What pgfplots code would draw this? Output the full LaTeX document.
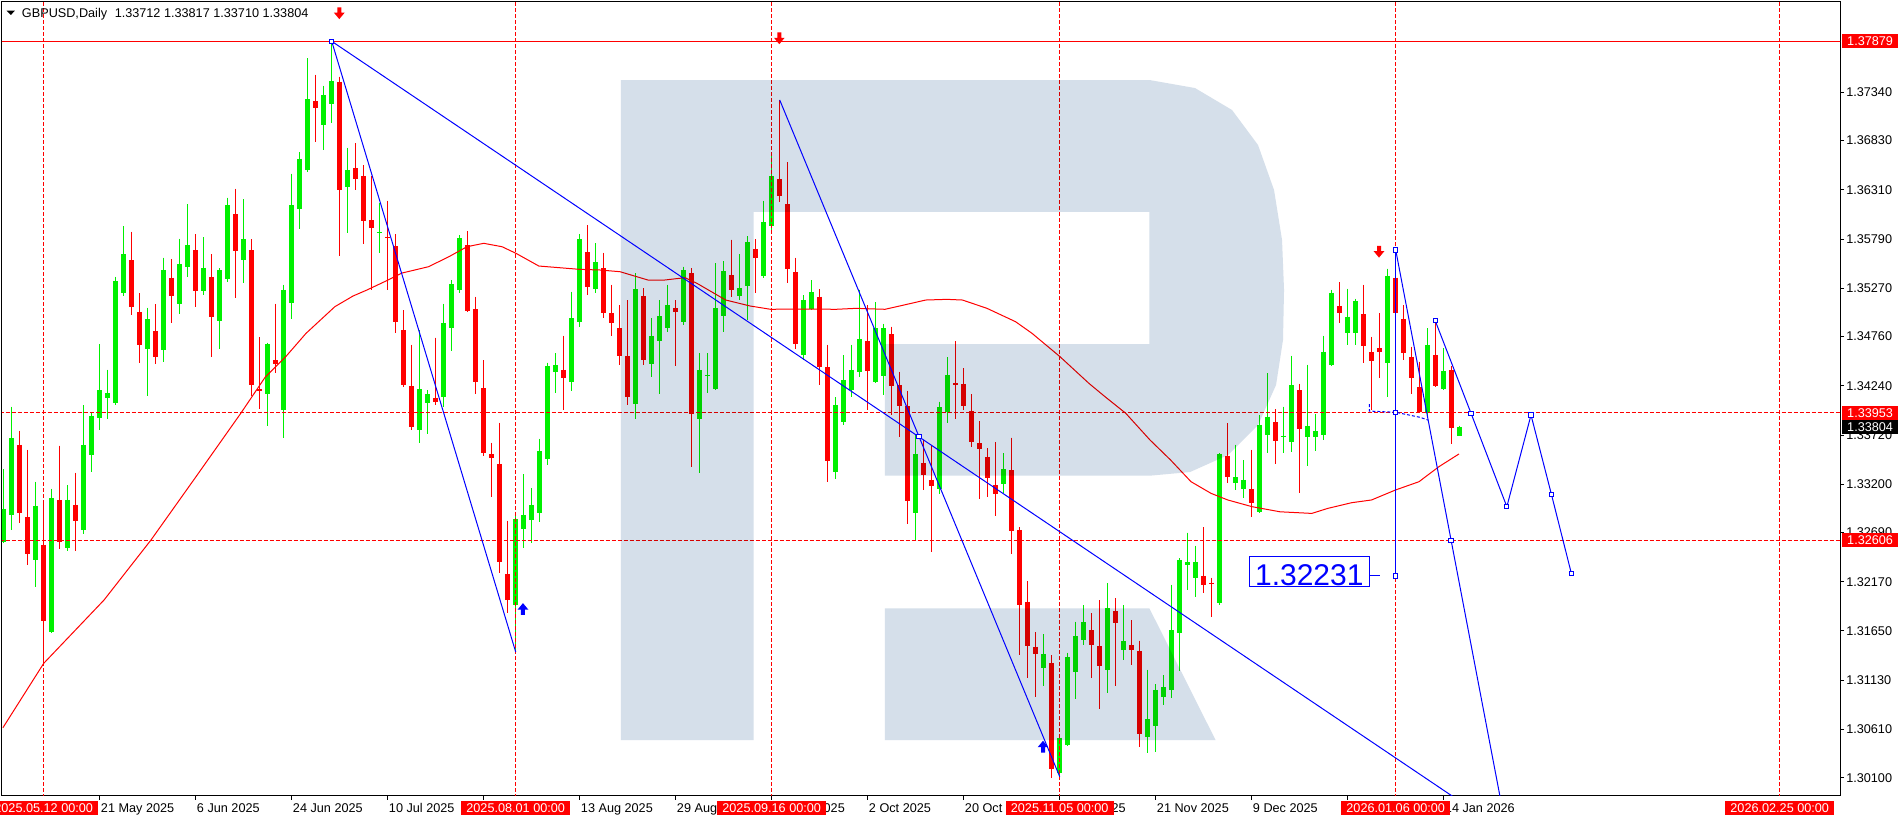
\documentclass[border=0pt]{standalone}
\usepackage{fontspec}
\setmainfont{Liberation Sans}
\usepackage{pgfplots}
\usepackage{pgfplotstable}
\pgfplotsset{compat=1.18}
\definecolor{mtgreen}{HTML}{00F000}
\definecolor{mtred}{HTML}{FF0000}
\definecolor{mtblue}{HTML}{0000FF}
\definecolor{wmark}{HTML}{D5DFEA}
\newcommand\tickfont{\fontsize{9.5pt}{11pt}\selectfont}

% arrows put on the chart by hand
\pgfdeclareplotmark{dnarr}{%
  \pgfpathmoveto{\pgfqpoint{-1.5pt}{4.4pt}}\pgfpathlineto{\pgfqpoint{1.5pt}{4.4pt}}%
  \pgfpathlineto{\pgfqpoint{1.5pt}{0.4pt}}\pgfpathlineto{\pgfqpoint{4pt}{0.4pt}}%
  \pgfpathlineto{\pgfqpoint{0pt}{-4.4pt}}\pgfpathlineto{\pgfqpoint{-4pt}{0.4pt}}%
  \pgfpathlineto{\pgfqpoint{-1.5pt}{0.4pt}}\pgfpathclose\pgfusepathqfill}
\pgfdeclareplotmark{uparr}{%
  \pgfpathmoveto{\pgfqpoint{-1.5pt}{-4.4pt}}\pgfpathlineto{\pgfqpoint{1.5pt}{-4.4pt}}%
  \pgfpathlineto{\pgfqpoint{1.5pt}{-0.4pt}}\pgfpathlineto{\pgfqpoint{4pt}{-0.4pt}}%
  \pgfpathlineto{\pgfqpoint{0pt}{4.4pt}}\pgfpathlineto{\pgfqpoint{-4pt}{-0.4pt}}%
  \pgfpathlineto{\pgfqpoint{-1.5pt}{-0.4pt}}\pgfpathclose\pgfusepathqfill}

% candle = error bar from the top down; no mark at the point itself
\pgfplotsset{candle/.style 2 args={only marks, mark size=0pt,
    mark options={draw=none, fill=none}, forget plot,
    error bars/.cd, y dir=minus, y explicit, error mark=none,
    error bar style={line width=#2, #1}}}

% daily bars, x = bar number (0 = 2025.05.12)
\pgfplotstableread{
i o h l c
-5 1.32594 1.33361 1.32580 1.32939
-4 1.32876 1.34016 1.32717 1.33689
-1 1.32403 1.33224 1.32115 1.32971
1 1.31639 1.33150 1.31628 1.33055
3 1.32527 1.33192 1.32498 1.33034
5 1.32717 1.34037 1.32678 1.33615
6 1.33509 1.33953 1.33330 1.33921
7 1.33903 1.34681 1.33776 1.34195
8 1.34111 1.34407 1.33889 1.34164
9 1.34058 1.35391 1.34037 1.35346
10 1.35220 1.35927 1.35188 1.35632
13 1.34628 1.35062 1.34132 1.34945
15 1.34618 1.35593 1.34491 1.35463
17 1.35104 1.35793 1.35001 1.35526
18 1.35498 1.36160 1.35391 1.35727
20 1.35237 1.35808 1.35199 1.35487
22 1.34924 1.35481 1.34628 1.35463
23 1.35371 1.36227 1.35336 1.36149
25 1.35568 1.36213 1.35329 1.35790
28 1.34153 1.34695 1.33815 1.34681
30 1.33988 1.35305 1.33692 1.35252
31 1.35117 1.36480 1.34950 1.36149
32 1.36107 1.36707 1.35896 1.36636
33 1.36523 1.37702 1.36498 1.37269
35 1.36995 1.37407 1.36734 1.37312
36 1.37217 1.37879 1.37016 1.37459
38 1.36343 1.36752 1.35851 1.36519
42 1.35854 1.36171 1.35643 1.35864
47 1.33776 1.34829 1.33639 1.34206
48 1.34061 1.34195 1.33734 1.34153
50 1.34122 1.35104 1.34016 1.34903
51 1.34854 1.35357 1.34607 1.35315
52 1.35252 1.35830 1.35220 1.35801
59 1.31924 1.32907 1.31428 1.32833
60 1.32727 1.33308 1.32527 1.32876
61 1.32823 1.33160 1.32580 1.32981
62 1.32897 1.33678 1.32801 1.33551
63 1.33467 1.34484 1.33406 1.34449
64 1.34386 1.34586 1.34164 1.34459
66 1.34283 1.35231 1.34188 1.34956
67 1.34914 1.35843 1.34864 1.35790
69 1.35265 1.35748 1.35217 1.35547
74 1.34048 1.35428 1.33889 1.35262
76 1.34473 1.34956 1.34336 1.34766
77 1.34716 1.35146 1.34156 1.34977
78 1.34850 1.35305 1.34811 1.35093
80 1.34914 1.35498 1.34882 1.35463
82 1.33886 1.34586 1.33322 1.34407
83 1.34343 1.34586 1.34161 1.34351
84 1.34209 1.35534 1.34195 1.35062
85 1.34980 1.35555 1.34811 1.35449
87 1.35188 1.35632 1.35146 1.35273
88 1.35294 1.35822 1.34935 1.35759
90 1.35400 1.36192 1.35379 1.35967
91 1.35931 1.36709 1.35864 1.36456
95 1.34562 1.35199 1.34512 1.35146
96 1.35051 1.35357 1.35040 1.35227
99 1.33332 1.34118 1.33252 1.34037
100 1.33861 1.34565 1.33826 1.34301
101 1.34195 1.34671 1.34121 1.34407
102 1.34389 1.35252 1.34336 1.34734
104 1.34283 1.35125 1.34273 1.34847
105 1.34346 1.34893 1.34143 1.34850
109 1.32894 1.33720 1.32611 1.33520
112 1.33150 1.34072 1.33097 1.34013
113 1.33966 1.34541 1.33844 1.34354
120 1.33203 1.33527 1.33104 1.33361
125 1.31262 1.31618 1.31069 1.31407
127 1.30147 1.30551 1.30111 1.30523
128 1.30445 1.31420 1.30435 1.31372
129 1.31220 1.31745 1.30931 1.31597
130 1.31555 1.31924 1.31502 1.31742
133 1.31238 1.32154 1.30998 1.31890
135 1.31449 1.31924 1.31343 1.31544
138 1.30527 1.31238 1.30364 1.30720
139 1.30646 1.31087 1.30375 1.31027
140 1.30950 1.31185 1.30868 1.31055
141 1.31023 1.32136 1.30945 1.31660
142 1.31625 1.32418 1.31230 1.32400
143 1.32347 1.32688 1.32083 1.32379
144 1.32206 1.32548 1.32012 1.32379
147 1.31942 1.33530 1.31924 1.33520
149 1.33216 1.33615 1.33139 1.33273
150 1.33147 1.33456 1.33051 1.33245
152 1.32910 1.33931 1.32896 1.33826
153 1.33720 1.34372 1.33533 1.33913
155 1.33702 1.34019 1.33533 1.33713
156 1.33649 1.34555 1.33544 1.34248
158 1.33696 1.34460 1.33396 1.33815
159 1.33702 1.33942 1.33554 1.33762
160 1.33720 1.34766 1.33667 1.34600
161 1.34460 1.35252 1.34449 1.35223
163 1.34794 1.35265 1.34671 1.34970
164 1.34798 1.35157 1.34671 1.35135
168 1.34477 1.35477 1.34125 1.35400
173 1.33949 1.34847 1.33931 1.34671
175 1.34203 1.34636 1.34195 1.34396
177 1.33712 1.33817 1.33710 1.33804
}\bull

\pgfplotstableread{
i o h l c
-3 1.33615 1.33763 1.32791 1.32900
-2 1.32854 1.33562 1.32347 1.32464
0 1.32559 1.33023 1.31312 1.31758
2 1.33034 1.33607 1.32516 1.32594
4 1.32981 1.33319 1.32498 1.32812
11 1.35568 1.35867 1.34988 1.35069
12 1.35019 1.35220 1.34481 1.34674
14 1.34819 1.35101 1.34468 1.34544
16 1.35383 1.35579 1.34906 1.35188
19 1.35671 1.35843 1.35069 1.35237
21 1.35391 1.35632 1.34547 1.34970
24 1.36054 1.36319 1.35167 1.35664
26 1.35671 1.35790 1.34132 1.34248
27 1.34206 1.34755 1.33995 1.34188
29 1.34512 1.35104 1.34375 1.34473
34 1.37248 1.37523 1.36818 1.37178
37 1.37452 1.37505 1.35614 1.36308
39 1.36540 1.36801 1.36308 1.36421
40 1.36456 1.36572 1.35741 1.35984
41 1.35991 1.36456 1.35252 1.35907
43 1.35812 1.36192 1.35252 1.35801
44 1.35717 1.35843 1.34800 1.34913
45 1.34829 1.35040 1.34230 1.34248
46 1.34237 1.34671 1.33773 1.33805
49 1.34114 1.34748 1.34037 1.34072
53 1.35727 1.35875 1.35019 1.35030
54 1.35051 1.35178 1.34156 1.34283
55 1.34216 1.34512 1.33502 1.33534
56 1.33520 1.33636 1.33065 1.33481
57 1.33414 1.33847 1.32266 1.32382
58 1.32252 1.32812 1.31843 1.31977
65 1.34407 1.34766 1.33984 1.34326
68 1.35650 1.35938 1.35196 1.35287
70 1.35484 1.35643 1.34956 1.35012
71 1.35009 1.35305 1.34766 1.34903
72 1.34850 1.35093 1.34460 1.34558
73 1.34555 1.35146 1.34037 1.34125
75 1.35188 1.35270 1.34460 1.34512
79 1.35058 1.35146 1.34452 1.35022
81 1.35428 1.35484 1.33385 1.33939
86 1.35407 1.35783 1.35175 1.35252
89 1.35685 1.35790 1.35217 1.35593
92 1.36421 1.37259 1.36184 1.36248
93 1.36160 1.36601 1.35326 1.35477
94 1.35442 1.35590 1.34625 1.34685
97 1.35181 1.35262 1.34248 1.34442
98 1.34438 1.34671 1.33227 1.33449
103 1.34713 1.35093 1.33984 1.34396
106 1.34787 1.34864 1.33931 1.34237
107 1.34248 1.34386 1.33702 1.34026
108 1.34026 1.34185 1.32780 1.33026
110 1.33421 1.33667 1.33139 1.33298
111 1.33245 1.33615 1.32481 1.33185
114 1.34266 1.34713 1.33889 1.34248
115 1.34259 1.34425 1.33984 1.34026
116 1.33974 1.34153 1.33597 1.33649
117 1.33632 1.33868 1.33044 1.33572
118 1.33488 1.33580 1.33068 1.33269
119 1.33192 1.33643 1.32868 1.33094
121 1.33350 1.33692 1.32463 1.32709
122 1.32717 1.32748 1.31396 1.31924
123 1.31959 1.32178 1.31150 1.31494
124 1.31484 1.31636 1.30956 1.31407
126 1.31312 1.31396 1.30094 1.30195
131 1.31660 1.31837 1.31157 1.31502
132 1.31494 1.31977 1.30826 1.31280
134 1.31861 1.31998 1.31069 1.31737
136 1.31502 1.31766 1.31291 1.31449
137 1.31439 1.31547 1.30428 1.30562
145 1.32231 1.32745 1.32048 1.32136
146 1.32160 1.32210 1.31798 1.32143
148 1.33502 1.33844 1.33210 1.33273
151 1.33150 1.33562 1.32857 1.32999
154 1.33854 1.33992 1.33414 1.33660
157 1.34195 1.34259 1.33104 1.33780
162 1.35083 1.35336 1.34906 1.35012
165 1.34998 1.35305 1.34484 1.34663
166 1.34594 1.34758 1.33984 1.34505
167 1.34636 1.35006 1.34319 1.34600
169 1.35382 1.35653 1.34935 1.35006
170 1.34945 1.35093 1.34512 1.34583
171 1.34547 1.34653 1.34153 1.34326
172 1.34224 1.34494 1.33963 1.33966
174 1.34565 1.34927 1.34230 1.34237
176 1.34407 1.34449 1.33622 1.33797
}\bear

\begin{document}
\begin{tikzpicture}
\fill[white] (-1.5pt,-18.75pt) rectangle (1426.5pt,597pt);
\begin{axis}[
  at={(0pt,0pt)}, anchor=south west,
  width=1378.5pt, height=595.5pt, scale only axis,
  xmin=-5.2125, xmax=224.5375, ymin=1.29907, ymax=1.38294,
  axis line style={black, line width=0.75pt},
  tick style={black, line width=0.75pt},
  tick align=outside, major tick length=3pt,
  xtick pos=bottom, ytick pos=right, yticklabel pos=right,
  scaled y ticks=false,
  xtick={7,19,...,175},
  xticklabels={21 May 2025,6 Jun 2025,24 Jun 2025,10 Jul 2025,28 Jul 2025,
    13 Aug 2025,29 Aug 2025,16 Sep 2025,2 Oct 2025,20 Oct 2025,5 Nov 2025,
    21 Nov 2025,9 Dec 2025,26 Dec 2025,14 Jan 2026},
  ytick={1.30100,1.30610,1.31130,1.31650,1.32170,1.32690,1.33200,1.33720,
    1.34240,1.34760,1.35270,1.35790,1.36310,1.36830,1.37340},
  yticklabels={1.30100,1.30610,1.31130,1.31650,1.32170,1.32690,1.33200,1.33720,
    1.34240,1.34760,1.35270,1.35790,1.36310,1.36830,1.37340},
  xticklabel style={font=\tickfont, anchor=north west, inner sep=0pt, xshift=0.75pt, yshift=-2.5pt},
  yticklabel style={font=\tickfont, anchor=west, inner sep=0pt, xshift=1.5pt},
]
\coordinate (tl) at (rel axis cs:0,1);
\coordinate (d0) at (axis cs:0,1.29907);
\coordinate (d1) at (axis cs:59,1.29907);
\coordinate (d2) at (axis cs:91,1.29907);
\coordinate (d3) at (axis cs:127,1.29907);
\coordinate (d4) at (axis cs:169,1.29907);
\coordinate (d5) at (axis cs:217,1.29907);
\coordinate (p1) at (axis cs:224.5375,1.37879);
\coordinate (p2) at (axis cs:224.5375,1.33953);
\coordinate (p3) at (axis cs:224.5375,1.33804);
\coordinate (p4) at (axis cs:224.5375,1.32606);

% candles: wicks, then bodies
\addplot[candle={mtgreen}{0.75pt}]
  table[x=i, y=h, y error minus expr={\thisrow{h}-\thisrow{l}}]{\bull};
\addplot[candle={mtgreen}{3.75pt}]
  table[x=i, y=c, y error minus expr={max(\thisrow{c}-\thisrow{o},0.00011)}]{\bull};
\addplot[candle={mtred}{0.75pt}]
  table[x=i, y=h, y error minus expr={\thisrow{h}-\thisrow{l}}]{\bear};
\addplot[candle={mtred}{3.75pt}]
  table[x=i, y=o, y error minus expr={max(\thisrow{o}-\thisrow{c},0.00011)}]{\bear};

% moving average
\addplot[mtred, line width=0.75pt] coordinates {
(-5.1,1.30628) (0,1.31308) (7.54,1.31977) (13.41,1.32611) (19.04,1.33280)
(24.64,1.33950) (27.66,1.34328) (30.25,1.34547) (32.79,1.34794) (36.4,1.35076)
(38.66,1.35188) (40.41,1.35252) (43.04,1.35357) (44.79,1.35431) (48.11,1.35498)
(50.66,1.35604) (52.91,1.35709) (55.0,1.35745) (57.29,1.35709) (59.04,1.35639)
(61.89,1.35505) (66.99,1.35470) (69.54,1.35463) (72.04,1.35445) (74.54,1.35382)
(75.54,1.35357) (77.6,1.35357) (80.16,1.35382) (81.66,1.35322) (85.25,1.35146)
(88.29,1.35083) (90.86,1.35048) (94.91,1.35051) (99.04,1.35048) (101.54,1.35058)
(105.16,1.35048) (107.16,1.35086) (110.25,1.35146) (112.9,1.35153) (114.84,1.35146)
(117.91,1.35058) (121.48,1.34917) (123.54,1.34794) (127.04,1.34547) (130.66,1.34265)
(132.66,1.34125) (135.25,1.33950) (138.29,1.33667) (140.86,1.33456) (143.41,1.33227)
(145.91,1.33104) (148.0,1.33034) (151.04,1.32963) (154.54,1.32909) (158.51,1.32892)
(160.51,1.32945) (163.49,1.33005) (165.98,1.33034) (168.96,1.33139) (171.91,1.33227)
(174.41,1.33386) (176.91,1.33520)};

% levels and dates
\addplot[mtred, line width=0.75pt] coordinates {(-10,1.37879) (240,1.37879)};
\addplot[mtred, line width=0.75pt, dash pattern=on 3pt off 1.5pt] coordinates {(-10,1.33953) (240,1.33953)};
\addplot[mtred, line width=0.75pt, dash pattern=on 3pt off 1.5pt] coordinates {(-10,1.32606) (240,1.32606)};
\addplot[mtred, line width=0.75pt, dash pattern=on 3pt off 1.5pt] coordinates {(0,1.29) (0,1.39)};
\addplot[mtred, line width=0.75pt, dash pattern=on 3pt off 1.5pt] coordinates {(59,1.29) (59,1.39)};
\addplot[mtred, line width=0.75pt, dash pattern=on 3pt off 1.5pt] coordinates {(91,1.29) (91,1.39)};
\addplot[mtred, line width=0.75pt, dash pattern=on 3pt off 1.5pt] coordinates {(127,1.29) (127,1.39)};
\addplot[mtred, line width=0.75pt, dash pattern=on 3pt off 1.5pt] coordinates {(169,1.29) (169,1.39)};
\addplot[mtred, line width=0.75pt, dash pattern=on 3pt off 1.5pt] coordinates {(217,1.29) (217,1.39)};

% watermark, multiplied over what lies beneath
\addplot[draw=none, fill=wmark, /tikz/blend mode=multiply] coordinates {
(72.14,1.30498) (72.14,1.37470) (138.21,1.37470) (143.91,1.37385) (148.54,1.37153)
(151.79,1.36783) (153.79,1.36308) (154.79,1.35780) (155.04,1.35252) (154.91,1.34724)
(154.04,1.34248) (151.79,1.33826) (148.04,1.33509) (143.29,1.33329) (138.21,1.33290)
(105.15,1.33290) (105.15,1.34681) (138.21,1.34681) (138.21,1.36076) (88.73,1.36076)
(88.73,1.30498)};
\addplot[draw=none, fill=wmark, /tikz/blend mode=multiply] coordinates {
(105.15,1.31889) (138.21,1.31889) (146.48,1.30498) (105.15,1.30498)};

% analysis lines
\addplot[mtblue, line width=0.75pt] coordinates {(36,1.37879) (59,1.31428)};
\addplot[mtblue, line width=0.75pt] coordinates {(36,1.37879) (180,1.29682)};
\addplot[mtblue, line width=0.75pt] coordinates {(92,1.37259) (127,1.30111)};
\addplot[mtblue, line width=0.75pt] coordinates {(169,1.35674) (169,1.32231)};
\addplot[mtblue, line width=0.75pt] coordinates {(169,1.35674) (183.29,1.29346)};
\addplot[mtblue, line width=0.75pt] coordinates {(173.94,1.34927) (178.41,1.33950)
  (182.89,1.32963) (185.91,1.33931) (188.46,1.33094) (190.95,1.32259)};
\addplot[mtblue, line width=0.75pt, dash pattern=on 2.25pt off 1.5pt] coordinates {
  (165.7,1.34047) (165.7,1.33973) (169,1.33960) (172.04,1.33907) (173.04,1.33878)};
\addplot[mtblue, line width=0.75pt] coordinates {(165.75,1.32231) (167.04,1.32231)};
\addplot[only marks, mark=square*, mark size=1.6pt,
  mark options={fill=white, draw=mtblue, line width=0.75pt}] coordinates {
  (36,1.37879) (109.41,1.33704) (169,1.35674) (169,1.32231) (169,1.33960)
  (175.91,1.32604) (173.94,1.34927) (178.41,1.33950) (182.89,1.32963)
  (185.91,1.33931) (188.46,1.33094) (190.95,1.32259)};
\addplot[only marks, mark=dnarr, mtred, mark options={fill=mtred}] coordinates {
  (36.95,1.38175) (91.95,1.37910) (166.91,1.35656)};
\addplot[only marks, mark=uparr, mtblue, mark options={fill=mtblue}] coordinates {
  (59.91,1.31882) (124.91,1.30428)};

\draw[mtblue, line width=0.75pt, fill=white] (axis cs:150.7,1.32442) rectangle (axis cs:165.75,1.32118);
\node[font=\fontsize{22.5pt}{24pt}\selectfont, text=mtblue, inner sep=0pt]
  at (axis cs:158.2,1.32236) {1.32231};
\end{axis}

% chart title
\fill ([xshift=3.5pt,yshift=-6.5pt]tl) -- ([xshift=9.75pt,yshift=-6.5pt]tl) -- ([xshift=6.6pt,yshift=-9.75pt]tl) -- cycle;
\node[anchor=base west, inner sep=0pt, font=\tickfont] at ([xshift=14.8pt,yshift=-11.5pt]tl)
  {GBPUSD,Daily\hspace{0.6em}1.33712 1.33817 1.33710 1.33804};

% time and price labels of the chart objects
\tikzset{datebox/.style={fill=mtred, text=white, font=\tickfont, inner xsep=4pt,
    inner ysep=0pt, minimum height=10.7pt, anchor=north},
  pricebox/.style={text=white, font=\tickfont, inner xsep=3pt, inner ysep=0pt,
    minimum height=10.5pt, minimum width=41.7pt, anchor=west}}
\node[datebox] at ([yshift=-3.5pt]d0) {2025.05.12 00:00};
\node[datebox] at ([yshift=-3.5pt]d1) {2025.08.01 00:00};
\node[datebox] at ([yshift=-3.5pt]d2) {2025.09.16 00:00};
\node[datebox] at ([yshift=-3.5pt]d3) {2025.11.05 00:00};
\node[datebox] at ([yshift=-3.5pt]d4) {2026.01.06 00:00};
\node[datebox] at ([yshift=-3.5pt]d5) {2026.02.25 00:00};
\node[pricebox, fill=mtred] at ([xshift=1.5pt]p1) {1.37879};
\node[pricebox, fill=mtred] at ([xshift=1.5pt]p2) {1.33953};
\node[pricebox, fill=black] at ([xshift=1.5pt]p3) {1.33804};
\node[pricebox, fill=mtred] at ([xshift=1.5pt]p4) {1.32606};

\pgfresetboundingbox
\path (-1.5pt,-18.75pt) rectangle (1426.5pt,597pt);
\end{tikzpicture}
\end{document}
